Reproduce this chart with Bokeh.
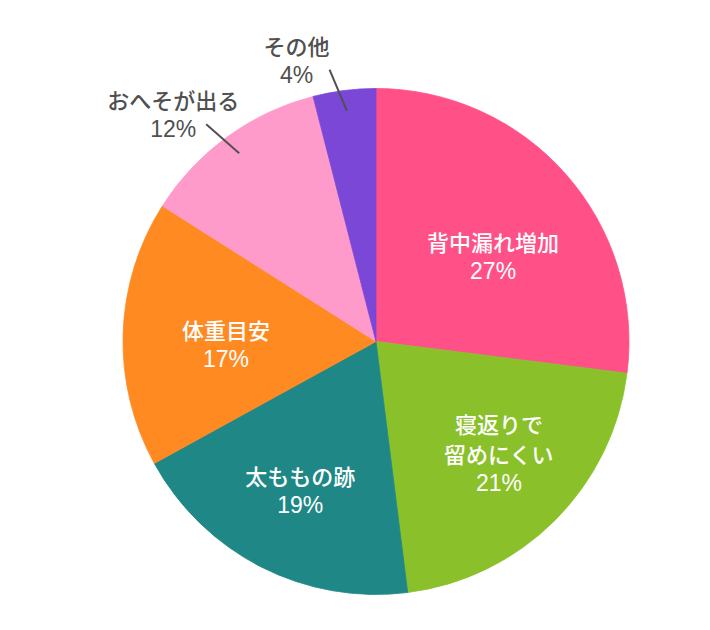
import math
from bokeh.plotting import figure
from bokeh.models import Range1d, ColumnDataSource
from bokeh.core.properties import value
from bokeh.embed import file_html
from bokeh.resources import INLINE

# ---- data ----
categories = ["背中漏れ増加", "寝返りで\n留めにくい", "太ももの跡", "体重目安", "おへそが出る", "その他"]
values = [27, 21, 19, 17, 12, 4]
colors = ["#FF5087", "#8AC12A", "#1F8886", "#FF8A22", "#FF9BCB", "#7B47D6"]
inside = [True, True, True, True, False, False]

# label layout (style)
label_r = [0.572, 0.655, 0.66, 0.593, 0, 0]
label_da = [5.4, -2.9, 0.0, -2.9, -2.0, -2.5]

W, H = 694, 614
p = figure(width=W, height=H, output_backend="svg", toolbar_location=None,
           x_range=Range1d(0, W), y_range=Range1d(630 - H, 630), min_border=0)
p.axis.visible = False
p.grid.visible = False
p.outline_line_color = None
p.background_fill_color = "white"
p.border_fill_color = "white"

cx, cy = 375.5, 630 - 341
R = 253
total = sum(values)

starts, ends, mids = [], [], []
cum = 0
for v in values:
    a0 = math.pi / 2 - 2 * math.pi * cum / total
    cum += v
    a1 = math.pi / 2 - 2 * math.pi * cum / total
    starts.append(a0)
    ends.append(a1)
    mids.append((a0 + a1) / 2)

src = ColumnDataSource(dict(start=starts, end=ends, color=colors))
p.wedge(x=cx, y=cy, radius=R, start_angle="start", end_angle="end", direction="clock",
        fill_color="color", line_color="color", line_width=0.8, source=src)

FONT = value("'Noto Sans CJK JP Medium', 'Noto Sans CJK JP'")
LH = 30

name_x, name_y, name_t, name_c = [], [], [], []
pct_x, pct_y, pct_t, pct_c = [], [], [], []
lx0, ly0, lx1, ly1 = [], [], [], []
for i, (cat, v) in enumerate(zip(categories, values)):
    lines = cat.split("\n")
    a = mids[i] - math.radians(label_da[i])
    if inside[i]:
        bx = cx + label_r[i] * R * math.cos(a)
        by = cy + label_r[i] * R * math.sin(a)
        col = "white"
    else:
        x0 = cx + 0.92 * R * math.cos(mids[i])
        y0 = cy + 0.92 * R * math.sin(mids[i])
        x1 = cx + 1.09 * R * math.cos(a)
        y1 = cy + 1.09 * R * math.sin(a)
        lx0.append(x0); ly0.append(y0); lx1.append(x1); ly1.append(y1)
        bx = x1 - 33
        by = y1 + 10
        col = "#505050"
    n = len(lines) + 1
    for k, t in enumerate(lines):
        name_x.append(bx)
        name_y.append(by + (n - 1) / 2 * LH - k * LH)
        name_t.append(t)
        name_c.append(col)
    pct_x.append(bx)
    pct_y.append(by + (n - 1) / 2 * LH - (n - 1) * LH)
    pct_t.append(f"{v}%")
    pct_c.append(col)

p.segment(x0=lx0, y0=ly0, x1=lx1, y1=ly1, line_color="#505050", line_width=2)
p.text(x=name_x, y=name_y, text=name_t, text_color=name_c, text_align="center",
       text_baseline="middle", text_font=FONT, text_font_size=value("22px"))
p.text(x=pct_x, y=pct_y, text=pct_t, text_color=pct_c, text_align="center",
       text_baseline="middle", text_font=value("Liberation Sans"), text_font_size=value("23px"))

open("out.html", "w").write(file_html(p, INLINE))
